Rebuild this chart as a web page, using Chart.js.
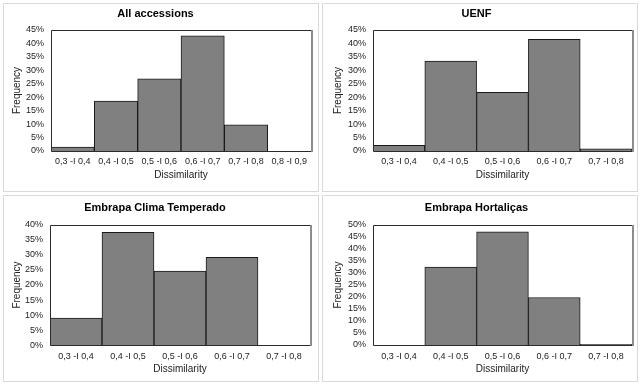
<!DOCTYPE html>
<html>
<head>
<meta charset="utf-8">
<script src="https://cdn.jsdelivr.net/npm/chart.js@4/dist/chart.umd.min.js"></script>
<style>
  html, body { margin: 0; padding: 0; background: #fff; }
  body { width: 642px; height: 386px; position: relative; overflow: hidden; }
  .cell { position: absolute; width: 321px; height: 193px; }
  .cell canvas { position: absolute; left: 0; top: 0; }
  .frame { position: absolute; border: 1px solid #d9d9d9; box-sizing: border-box; pointer-events: none; }
</style>
</head>
<body>
<div class="frame" style="left:3px;top:3px;width:316px;height:189px"></div>
<div class="frame" style="left:322px;top:3px;width:316px;height:189px"></div>
<div class="frame" style="left:3px;top:195px;width:316px;height:187px"></div>
<div class="frame" style="left:322px;top:195px;width:316px;height:187px"></div>

<div class="cell" style="left:0;top:0"><canvas id="c1" width="321" height="193"></canvas></div>
<div class="cell" style="left:321px;top:0"><canvas id="c2" width="321" height="193"></canvas></div>
<div class="cell" style="left:0;top:193px"><canvas id="c3" width="321" height="193"></canvas></div>
<div class="cell" style="left:321px;top:193px"><canvas id="c4" width="321" height="193"></canvas></div>

<script>
// ---- data ----
const classesSix = ["0,3 -I 0,4", "0,4 -I 0,5", "0,5 -I 0,6", "0,6 -I 0,7", "0,7 -I 0,8", "0,8 -I 0,9"];
const classesFive = ["0,3 -I 0,4", "0,4 -I 0,5", "0,5 -I 0,6", "0,6 -I 0,7", "0,7 -I 0,8"];

const allAccessions = [1.5, 18.6, 26.8, 42.8, 9.7, 0];
const uenf = [2.1, 33.4, 21.8, 41.5, 0.8];
const climaTemperado = [9.0, 37.5, 24.6, 29.2, 0];
const hortalicas = [0, 32.5, 47.2, 19.8, 0.3];

const titles = ["All accessions", "UENF", "Embrapa Clima Temperado", "Embrapa Hortaliças"];
const yMaxes = [45, 45, 40, 50];
const xTitle = "Dissimilarity";
const yTitle = "Frequency";

// ---- drawing ----
const FONT = "'Liberation Sans', Arial, sans-serif";

const frameBox = {
  id: 'frameBox',
  afterDatasetsDraw(chart) {
    const a = chart.chartArea, ctx = chart.ctx;
    ctx.save();
    ctx.strokeStyle = '#2b2b2b';
    ctx.lineWidth = 1;
    ctx.beginPath();
    ctx.moveTo(Math.round(a.left) + 0.5, Math.round(a.bottom) + 0.5);
    ctx.lineTo(Math.round(a.left) + 0.5, Math.round(a.top) + 0.5);
    ctx.lineTo(Math.round(a.right) + 0.5, Math.round(a.top) + 0.5);
    ctx.moveTo(Math.round(a.left) + 0.5, Math.round(a.bottom) + 0.5);
    ctx.lineTo(Math.round(a.right) + 0.5, Math.round(a.bottom) + 0.5);
    ctx.stroke();
    ctx.strokeStyle = '#8c8c8c';
    ctx.lineWidth = 2;
    ctx.beginPath();
    ctx.moveTo(Math.round(a.right) + 1, Math.round(a.top));
    ctx.lineTo(Math.round(a.right) + 1, Math.round(a.bottom) + 1);
    ctx.stroke();
    ctx.restore();
  }
};

// layout specs per panel (in canvas coords)
const specs = [
  { id: 'c1', labels: classesSix,  data: allAccessions,  yw: 51, padR: 10, titleTop: 7.2, titleBot: 9.6, xh: 42,   tickPad: 5,   xtPad: 12 },
  { id: 'c2', labels: classesFive, data: uenf,           yw: 52, padR: 10, titleTop: 7.2, titleBot: 9.6, xh: 42,   tickPad: 5,   xtPad: 12 },
  { id: 'c3', labels: classesFive, data: climaTemperado, yw: 50, padR: 11, titleTop: 8.8, titleBot: 9.7, xh: 40.7, tickPad: 5.6, xtPad: 10.3 },
  { id: 'c4', labels: classesFive, data: hortalicas,     yw: 52, padR: 10, titleTop: 8.8, titleBot: 10.0, xh: 41,   tickPad: 6.6, xtPad: 10.3 }
];

specs.forEach((s, i) => {
  new Chart(document.getElementById(s.id), {
    type: 'bar',
    data: {
      labels: s.labels,
      datasets: [{
        data: s.data,
        backgroundColor: '#808080',
        borderColor: '#1a1a1a',
        borderWidth: 1,
        categoryPercentage: 1.0,
        barPercentage: 1.0
      }]
    },
    options: {
      responsive: false,
      animation: false,
      events: [],
      layout: { padding: { left: 0, right: s.padR, top: 0, bottom: 0 } },
      plugins: {
        legend: { display: false },
        tooltip: { enabled: false },
        title: {
          display: true,
          text: titles[i],
          color: '#000',
          font: { family: FONT, size: 11, weight: 'bold', lineHeight: 1.2 },
          padding: { top: s.titleTop, bottom: s.titleBot }
        }
      },
      scales: {
        x: {
          grid: { display: false, drawTicks: false },
          border: { display: false },
          ticks: { color: '#222', font: { family: FONT, size: 9 }, padding: s.tickPad, maxRotation: 0, autoSkip: false },
          title: { display: true, text: xTitle, color: '#222', font: { family: FONT, size: 10, lineHeight: 1.2 }, padding: { top: s.xtPad, bottom: s.xtPad } },
          afterFit: (sc) => { sc.height = s.xh; }
        },
        y: {
          min: 0,
          max: yMaxes[i],
          grid: { display: false, drawTicks: false },
          border: { display: false },
          ticks: { stepSize: 5, autoSkip: false, color: '#222', font: { family: FONT, size: 9 }, padding: 7, callback: (v) => v + '%' },
          title: { display: true, text: yTitle, color: '#222', font: { family: FONT, size: 10, lineHeight: 1.2 }, padding: { top: 11, bottom: 11 } },
          afterFit: (sc) => { sc.width = s.yw; }
        }
      }
    },
    plugins: [frameBox]
  });
});
</script>
</body>
</html>
